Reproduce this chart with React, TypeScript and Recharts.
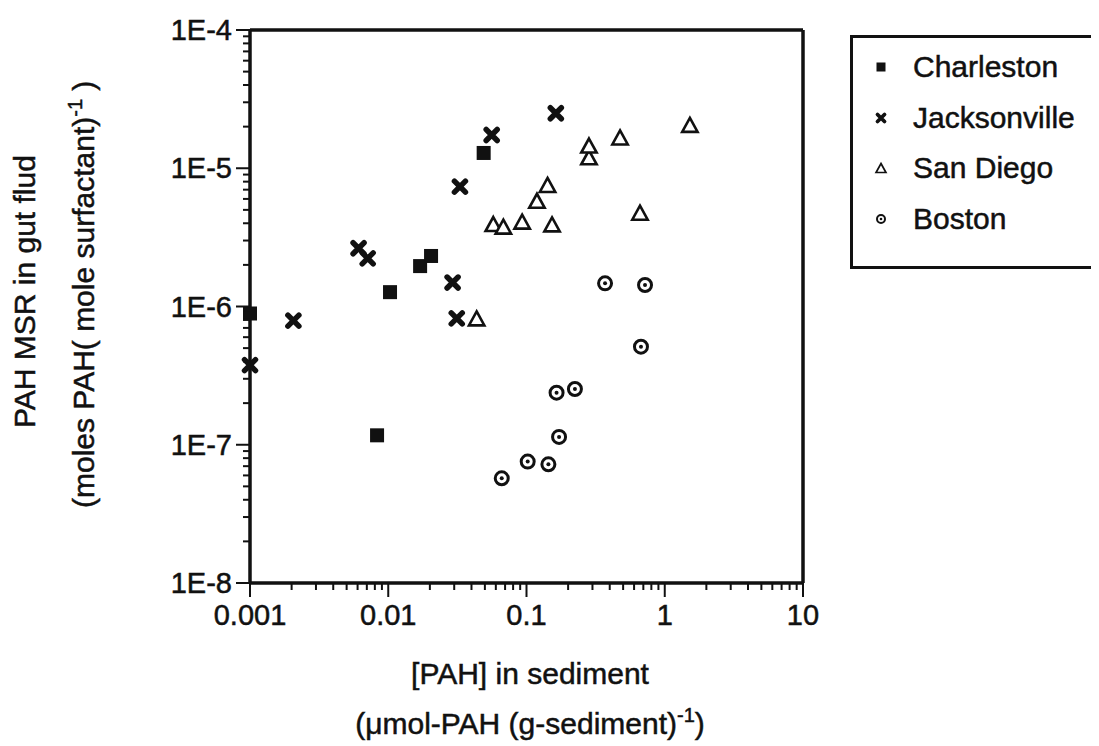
import React from "react";
import {
  ScatterChart,
  Scatter,
  XAxis,
  YAxis,
  Legend,
  ReferenceLine,
} from "recharts";

// [PAH] in sediment (umol/g) vs PAH MSR in gut fluid
const charleston = [
  { x: 0.001, y: 8.9e-7 },
  { x: 0.0083, y: 1.17e-7 },
  { x: 0.0103, y: 1.27e-6 },
  { x: 0.017, y: 1.96e-6 },
  { x: 0.0204, y: 2.32e-6 },
  { x: 0.049, y: 1.29e-5 },
];

const jacksonville = [
  { x: 0.001, y: 3.77e-7 },
  { x: 0.00206, y: 7.9e-7 },
  { x: 0.0061, y: 2.64e-6 },
  { x: 0.0071, y: 2.23e-6 },
  { x: 0.0292, y: 1.49e-6 },
  { x: 0.0313, y: 8.2e-7 },
  { x: 0.033, y: 7.36e-6 },
  { x: 0.056, y: 1.74e-5 },
  { x: 0.163, y: 2.5e-5 },
];

const sanDiego = [
  { x: 0.0436, y: 8.2e-7 },
  { x: 0.0575, y: 3.95e-6 },
  { x: 0.068, y: 3.78e-6 },
  { x: 0.093, y: 4.11e-6 },
  { x: 0.119, y: 5.82e-6 },
  { x: 0.142, y: 7.57e-6 },
  { x: 0.153, y: 3.93e-6 },
  { x: 0.283, y: 1.2e-5 },
  { x: 0.283, y: 1.46e-5 },
  { x: 0.475, y: 1.67e-5 },
  { x: 0.662, y: 4.77e-6 },
  { x: 1.52, y: 2.06e-5 },
];

const boston = [
  { x: 0.0662, y: 5.72e-8 },
  { x: 0.102, y: 7.55e-8 },
  { x: 0.144, y: 7.22e-8 },
  { x: 0.172, y: 1.14e-7 },
  { x: 0.165, y: 2.38e-7 },
  { x: 0.224, y: 2.53e-7 },
  { x: 0.37, y: 1.47e-6 },
  { x: 0.72, y: 1.43e-6 },
  { x: 0.673, y: 5.12e-7 },
];

const xMajor = [0.001, 0.01, 0.1, 1, 10];
const xMajorLabels = ["0.001", "0.01", "0.1", "1", "10"];
const yMajor = [1e-8, 1e-7, 1e-6, 1e-5, 1e-4];
const yMajorLabels = ["1E-8", "1E-7", "1E-6", "1E-5", "1E-4"];
const minorSteps = [2, 3, 4, 5, 6, 7, 8, 9];

const withMinor = (major: number[]) => {
  const out: number[] = [];
  major.forEach((m, i) => {
    out.push(m);
    if (i < major.length - 1) minorSteps.forEach((s) => out.push(m * s));
  });
  return out;
};

const xTicks = withMinor(xMajor);
const yTicks = withMinor(yMajor);

const FONT = "'Liberation Sans', Arial, Helvetica, sans-serif";
const INK = "#111";
const heavy = { stroke: INK, strokeWidth: 0.5 };

const majorIndex = (v: number, major: number[]) =>
  major.findIndex((m) => Math.abs(Math.log10(v) - Math.log10(m)) < 1e-6);

const XTick = (props: any) => {
  const { x, y, payload } = props;
  const i = majorIndex(payload.value, xMajor);
  const len = i >= 0 ? 14 : 7;
  return (
    <g>
      <line x1={x} x2={x} y1={y} y2={y + len} stroke={INK} strokeWidth={2} />
      {i >= 0 && (
        <text
          x={x}
          y={y + 42}
          textAnchor="middle"
          fontFamily={FONT}
          fontSize={29}
          fill={INK}
          {...heavy}
        >
          {xMajorLabels[i]}
        </text>
      )}
    </g>
  );
};

const YTick = (props: any) => {
  const { x, y, payload } = props;
  const i = majorIndex(payload.value, yMajor);
  const len = i >= 0 ? 14 : 7;
  return (
    <g>
      <line x1={x} x2={x - len} y1={y} y2={y} stroke={INK} strokeWidth={2} />
      {i >= 0 && (
        <text
          x={x - 18}
          y={y + 10}
          textAnchor="end"
          fontFamily={FONT}
          fontSize={29}
          fill={INK}
          {...heavy}
        >
          {yMajorLabels[i]}
        </text>
      )}
    </g>
  );
};

const Square = ({ cx, cy, s = 14 }: any) => (
  <rect x={cx - s / 2} y={cy - s / 2} width={s} height={s} fill={INK} />
);

const Cross = ({ cx, cy, s = 5.5, w = 5.5 }: any) => (
  <path
    d={`M${cx - s},${cy - s}L${cx + s},${cy + s}M${cx - s},${cy + s}L${cx + s},${cy - s}`}
    stroke={INK}
    strokeWidth={w}
    strokeLinecap="round"
  />
);

const Triangle = ({ cx, cy, s = 7, w = 2.6 }: any) => (
  <polygon
    points={`${cx},${cy - s} ${cx + s * 1.1},${cy + s} ${cx - s * 1.1},${cy + s}`}
    fill="#fff"
    stroke={INK}
    strokeWidth={w}
  />
);

const Ring = ({ cx, cy, r = 6.5, w = 3, d = 2 }: any) => (
  <g>
    <circle cx={cx} cy={cy} r={r} fill="#fff" stroke={INK} strokeWidth={w} />
    <circle cx={cx} cy={cy} r={d} fill={INK} />
  </g>
);

const legendItems = [
  { name: "Charleston", icon: <Square cx={10} cy={10} s={9} /> },
  { name: "Jacksonville", icon: <Cross cx={10} cy={10} s={3.5} w={3.8} /> },
  { name: "San Diego", icon: <Triangle cx={10} cy={10} s={4.5} w={1.7} /> },
  { name: "Boston", icon: <Ring cx={10} cy={10} r={4} w={2} d={1.3} /> },
];

const renderLegend = () => (
  <div
    style={{
      width: 243,
      height: 224,
      border: `3px solid ${INK}`,
      boxSizing: "content-box",
      paddingTop: 4,
      fontFamily: FONT,
      fontSize: 30,
      color: INK,
      WebkitTextStroke: "0.5px #111",
    }}
  >
    {legendItems.map((it) => (
      <div
        key={it.name}
        style={{ display: "flex", alignItems: "center", height: 50.5 }}
      >
        <svg width={20} height={20} style={{ marginLeft: 18, marginRight: 22 }}>
          {it.icon}
        </svg>
        <span>{it.name}</span>
      </div>
    ))}
  </div>
);

export default function App() {
  return (
    <div style={{ position: "relative", width: 1083, height: 738 }}>
      <ScatterChart
        width={1083}
        height={738}
        margin={{ top: 22, right: 288, bottom: 123, left: 182 }}
      >
        <XAxis
          type="number"
          dataKey="x"
          scale="log"
          domain={[0.001, 10]}
          ticks={xTicks}
          interval={0}
          height={40}
          tickSize={0}
          tickMargin={0}
          tickLine={false}
          tick={<XTick />}
          axisLine={{ stroke: INK, strokeWidth: 3.5 }}
        />
        <YAxis
          type="number"
          dataKey="y"
          scale="log"
          domain={[1e-8, 1e-4]}
          ticks={yTicks}
          interval={0}
          width={60}
          tickSize={0}
          tickMargin={0}
          tickLine={false}
          tick={<YTick />}
          axisLine={{ stroke: INK, strokeWidth: 3.5 }}
        />
        <ReferenceLine y={1e-4} stroke={INK} strokeWidth={3.5} />
        <ReferenceLine x={10} stroke={INK} strokeWidth={3.5} />
        <Scatter
          name="Charleston"
          data={charleston}
          shape={(p: any) => <Square cx={p.cx} cy={p.cy} />}
          isAnimationActive={false}
        />
        <Scatter
          name="Jacksonville"
          data={jacksonville}
          shape={(p: any) => <Cross cx={p.cx} cy={p.cy} />}
          isAnimationActive={false}
        />
        <Scatter
          name="San Diego"
          data={sanDiego}
          shape={(p: any) => <Triangle cx={p.cx} cy={p.cy} />}
          isAnimationActive={false}
        />
        <Scatter
          name="Boston"
          data={boston}
          shape={(p: any) => <Ring cx={p.cx} cy={p.cy} />}
          isAnimationActive={false}
        />
        <Legend
          layout="vertical"
          align="center"
          verticalAlign="middle"
          content={renderLegend}
          wrapperStyle={{ position: "absolute", left: 842, top: 27, width: "auto" }}
        />
      </ScatterChart>
      <svg
        width={1083}
        height={738}
        style={{ position: "absolute", left: 0, top: 0, pointerEvents: "none" }}
        fontFamily={FONT}
        fill={INK}
        {...heavy}
      >
        <text transform="translate(27, 420) rotate(-90)" fontSize={30}>
          PAH MSR in gut flud
        </text>
        <text transform="translate(86, 500) rotate(-90)" fontSize={30}>
          (moles PAH( mole surfactant)
          <tspan dy={-12} fontSize={20}>
            -1
          </tspan>
          <tspan dy={12}> )</tspan>
        </text>
        <text x={522} y={676} textAnchor="middle" fontSize={30}>
          [PAH] in sediment
        </text>
        <text x={522} y={726} textAnchor="middle" fontSize={30}>
          (μmol-PAH (g-sediment)
          <tspan dy={-12} fontSize={20}>
            -1
          </tspan>
          <tspan dy={12}>)</tspan>
        </text>
      </svg>
    </div>
  );
}
